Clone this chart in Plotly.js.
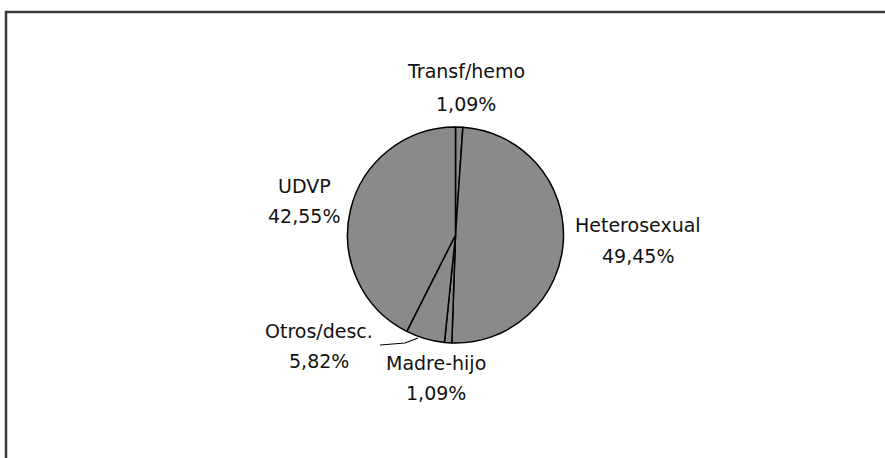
<!DOCTYPE html>
<html>
<head>
<meta charset="utf-8">
<script src="https://cdn.plot.ly/plotly-3.0.1.min.js"></script>
<style>html,body{margin:0;padding:0;background:#fff;}#chart{width:885px;height:458px;}</style>
</head>
<body>
<div id="chart"></div>
<script>
// Data
var categories = ["Transf/hemo", "Heterosexual", "Madre-hijo", "Otros/desc.", "UDVP"];
var values = [1.09, 49.45, 1.09, 5.82, 42.55];

// Label layout (pixel positions of each two-line label: name line centre, percent line centre)
var W = 885, H = 458;
var labelPos = [
  {x: 466, y1: 71, y2: 104},
  {x: 638, y1: 225, y2: 256},
  {x: 436, y1: 363, y2: 393},
  {x: 319, y1: 331, y2: 361},
  {x: 304, y1: 186, y2: 216}
];
var fontStyle = {family: "DejaVu Sans", size: 19, color: "#111"};

function px(x) { return x / W; }
function py(y) { return 1 - y / H; }

var annotations = [];
categories.forEach(function (c, i) {
  var p = labelPos[i];
  var pct = values[i].toFixed(2).replace('.', ',') + '%';
  annotations.push({xref: 'paper', yref: 'paper', x: px(p.x), y: py(p.y1), text: c,
    showarrow: false, xanchor: 'center', yanchor: 'middle', font: fontStyle});
  annotations.push({xref: 'paper', yref: 'paper', x: px(p.x), y: py(p.y2), text: pct,
    showarrow: false, xanchor: 'center', yanchor: 'middle', font: fontStyle});
});

var cx = 455.5, cy = 235, r = 108;
var trace = {
  type: 'pie',
  labels: categories,
  values: values,
  sort: false,
  direction: 'clockwise',
  rotation: 0,
  textinfo: 'none',
  hoverinfo: 'label+percent',
  showlegend: false,
  marker: {colors: categories.map(function () { return '#8a8a8a'; }),
           line: {color: '#000', width: 1.5}},
  domain: {x: [px(cx - r), px(cx + r)], y: [py(cy + r), py(cy - r)]}
};

var layout = {
  width: W, height: H,
  margin: {l: 0, r: 0, t: 0, b: 0},
  paper_bgcolor: '#fff',
  showlegend: false,
  annotations: annotations,
  shapes: [
    {type: 'line', xref: 'paper', yref: 'paper', x0: px(5), x1: 1, y0: py(12), y1: py(12),
     line: {color: '#3c3c3c', width: 2.5}},
    {type: 'line', xref: 'paper', yref: 'paper', x0: px(6), x1: px(6), y0: py(11), y1: 0,
     line: {color: '#3c3c3c', width: 2.5}},
    {type: 'path', xref: 'paper', yref: 'paper',
     path: 'M ' + px(380) + ' ' + py(345) + ' L ' + px(405) + ' ' + py(343) + ' L ' + px(418) + ' ' + py(338),
     line: {color: '#000', width: 1.2}}
  ]
};

Plotly.newPlot('chart', [trace], layout, {displayModeBar: false, staticPlot: true});
</script>
</body>
</html>
